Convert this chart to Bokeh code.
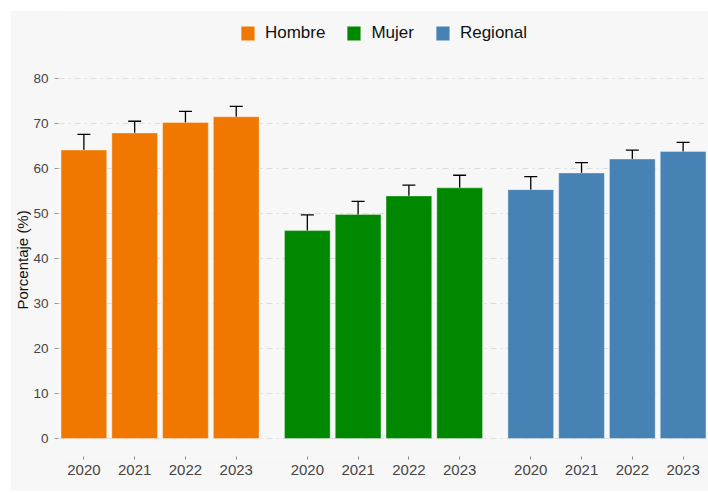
from bokeh.plotting import figure
from bokeh.models import (ColumnDataSource, Range1d, FixedTicker,
                          Whisker, TeeHead, Legend, Title)
from bokeh.embed import file_html
from bokeh.resources import INLINE

groups = ["Hombre", "Mujer", "Regional"]
years = ["2020", "2021", "2022", "2023"]
colors = ["#F07800", "#008800", "#4682B4"]

hombre = [64.1, 67.9, 70.2, 71.5]
hombre_lo = [60.7, 65.3, 67.7, 69.3]
hombre_hi = [67.6, 70.5, 72.7, 73.8]

mujer = [46.2, 49.8, 53.9, 55.7]
mujer_lo = [42.7, 46.9, 51.4, 53.0]
mujer_hi = [49.7, 52.7, 56.3, 58.5]

regional = [55.3, 59.0, 62.1, 63.8]
regional_lo = [52.5, 56.7, 60.2, 61.8]
regional_hi = [58.2, 61.3, 64.1, 65.8]

y_ticks = [0, 10, 20, 30, 40, 50, 60, 70, 80]
y_label = "Porcentaje (%)"

values = [hombre, mujer, regional]
lows = [hombre_lo, mujer_lo, regional_lo]
highs = [hombre_hi, mujer_hi, regional_hi]

FONT = "Liberation Sans"
GROUP_GAP = 0.4  # extra slot units between groups

n_years = len(years)
span = len(groups) * n_years + (len(groups) - 1) * GROUP_GAP

p = figure(width=698, height=481,
           x_range=Range1d(0, span),
           y_range=Range1d(-4, 94),
           output_backend="svg", toolbar_location=None,
           min_border_left=48, min_border_right=0,
           min_border_top=5, min_border_bottom=35)
p.margin = (10, 0, 2, 10)

p.background_fill_color = "#f7f7f7"
p.border_fill_color = "#f7f7f7"
p.outline_line_color = None

items = []
tick_pos = []
tick_lab = {}
for gi, (g, vals, lo, hi, c) in enumerate(zip(groups, values, lows, highs, colors)):
    xs = [gi * (n_years + GROUP_GAP) + yi + 0.5 for yi in range(n_years)]
    tick_pos += xs
    for x, yr in zip(xs, years):
        tick_lab[x] = yr
    src = ColumnDataSource(dict(x=xs, top=vals, lower=lo, upper=hi))
    r = p.vbar(x="x", top="top", bottom=0, width=0.9, source=src,
               fill_color=c, line_color="white", line_alpha=0.35, line_width=1)
    items.append((g, [r]))
    w = Whisker(base="x", upper="upper", lower="lower", source=src,
                line_color="black", line_width=1.3,
                upper_head=TeeHead(size=13, line_color="black", line_width=1.3),
                lower_head=TeeHead(size=13, line_color="black", line_width=1.3))
    p.add_layout(w)

legend = Legend(items=items, orientation="horizontal", location="top_center",
                glyph_width=17, glyph_height=18, label_standoff=9, spacing=20,
                label_text_font=FONT, label_text_font_size="17px",
                label_text_color="#111111", label_height=18,
                padding=0, margin=8,
                background_fill_alpha=0, border_line_color=None)
p.add_layout(legend)

# y axis
p.yaxis.ticker = FixedTicker(ticks=y_ticks)
p.yaxis.axis_line_color = None
p.yaxis.major_tick_out = 4
p.yaxis.major_tick_in = 0
p.yaxis.major_tick_line_color = "#999999"
p.yaxis.minor_tick_line_color = None
p.yaxis.major_label_standoff = 6
p.yaxis.major_label_text_font = FONT
p.yaxis.major_label_text_font_size = "13.5px"
p.yaxis.major_label_text_color = "#444444"

ytitle = Title(text=y_label, align="left", offset=147, standoff=0,
               text_font=FONT, text_font_size="15px", text_font_style="normal",
               text_color="#111111")
p.add_layout(ytitle, "left")

# x axis
p.xaxis.ticker = FixedTicker(ticks=tick_pos)
p.xaxis.major_label_overrides = tick_lab
p.xaxis.axis_line_color = None
p.xaxis.major_tick_out = 3
p.xaxis.major_tick_in = 0
p.xaxis.major_tick_line_color = "#888888"
p.xaxis.minor_tick_line_color = None
p.xaxis.major_label_standoff = 5
p.xaxis.major_label_text_font = FONT
p.xaxis.major_label_text_font_size = "15px"
p.xaxis.major_label_text_color = "#444444"

# grid
p.xgrid.grid_line_color = None
p.ygrid.ticker = FixedTicker(ticks=y_ticks)
p.ygrid.grid_line_color = "#dddddd"
p.ygrid.grid_line_dash = "6 4 2 4"
p.ygrid.grid_line_width = 1

open("out.html", "w").write(file_html(p, INLINE))
